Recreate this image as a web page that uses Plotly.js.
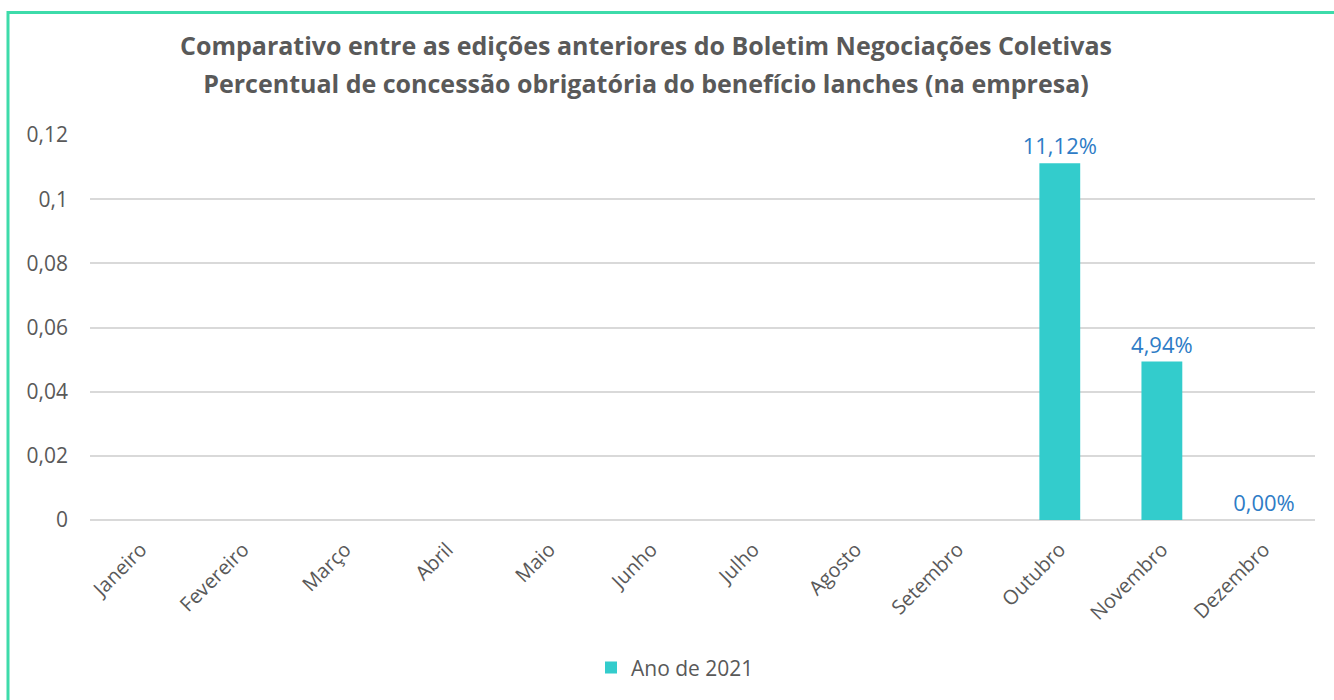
<!DOCTYPE html>
<html><head><meta charset="utf-8">
<script src="https://cdn.plot.ly/plotly-3.0.1.min.js"></script>
<style>html,body{margin:0;padding:0;background:#fff;}#chart{width:1334px;height:700px;}</style>
</head><body><div id="chart"></div>
<script>
const months = ["Janeiro","Fevereiro","Março","Abril","Maio","Junho","Julho","Agosto","Setembro","Outubro","Novembro","Dezembro"];
const values2021 = [null,null,null,null,null,null,null,null,null,0.1112,0.0494,0.0];
const labels2021 = ["","","","","","","","","","11,12%","4,94%","0,00%"];
const seriesName = "Ano de 2021";
const titleLines = ["Comparativo entre as edições anteriores do Boletim Negociações Coletivas","Percentual de concessão obrigatória do benefício lanches (na empresa)"];

const grey = "#595959";
const trace = {
  type: "bar",
  x: months,
  y: values2021,
  name: seriesName,
  text: labels2021,
  textposition: "outside",
  constraintext: "none",
  cliponaxis: false,
  textfont: {family: "Open Sans, sans-serif", size: 22, color: "#2E7CC6"},
  marker: {color: "#33CCCC"},
  hoverinfo: "x+y"
};
const L = 90, R = 19, T = 135, B = 177;
const pw = 1334 - L - R, ph = 700 - T - B;
const px = v => (v - L) / pw;
const py = v => (700 - B - v) / ph;
const layout = {
  width: 1334, height: 700,
  margin: {l: L, r: R, t: T, b: B},
  separators: ",.",
  paper_bgcolor: "#fff", plot_bgcolor: "#fff",
  font: {family: "Open Sans, sans-serif", color: grey, size: 18},
  title: {text: titleLines.map(s => `<span style="font-size:25px">${s}</span>`).join("<br>"), font: {family: "Open Sans, sans-serif", size: 29, color: grey, weight: "bold"}, x: 646/1334, xanchor: "center", y: 1 - 55/700, yanchor: "middle"},
  bargap: 0.6,
  showlegend: true,
  legend: {orientation: "h", x: px(675), xanchor: "center", y: py(672), yanchor: "middle", font: {size: 21, color: grey}},
  xaxis: {type: "category", tickangle: -45, showgrid: false, showline: false, ticks: "", ticklabelstandoff: 13, tickfont: {size: 20, color: grey}, fixedrange: true},
  yaxis: {range: [0, 0.12], dtick: 0.02, tick0: 0, showgrid: true, gridcolor: "#D9D9D9", gridwidth: 2, zeroline: true, zerolinecolor: "#D9D9D9", zerolinewidth: 2, showline: false, ticks: "", ticklabelstandoff: 21, tickfont: {size: 21, color: grey}, fixedrange: true},
  shapes: [{type: "path", xref: "paper", yref: "paper", path: `M ${px(8)} ${py(720)} L ${px(8)} ${py(11.5)} L ${px(1360)} ${py(11.5)}`, line: {color: "#3DDBAA", width: 3}, layer: "above"}]
};
Plotly.newPlot("chart", [trace], layout, {displayModeBar: false, staticPlot: true});
</script></body></html>
